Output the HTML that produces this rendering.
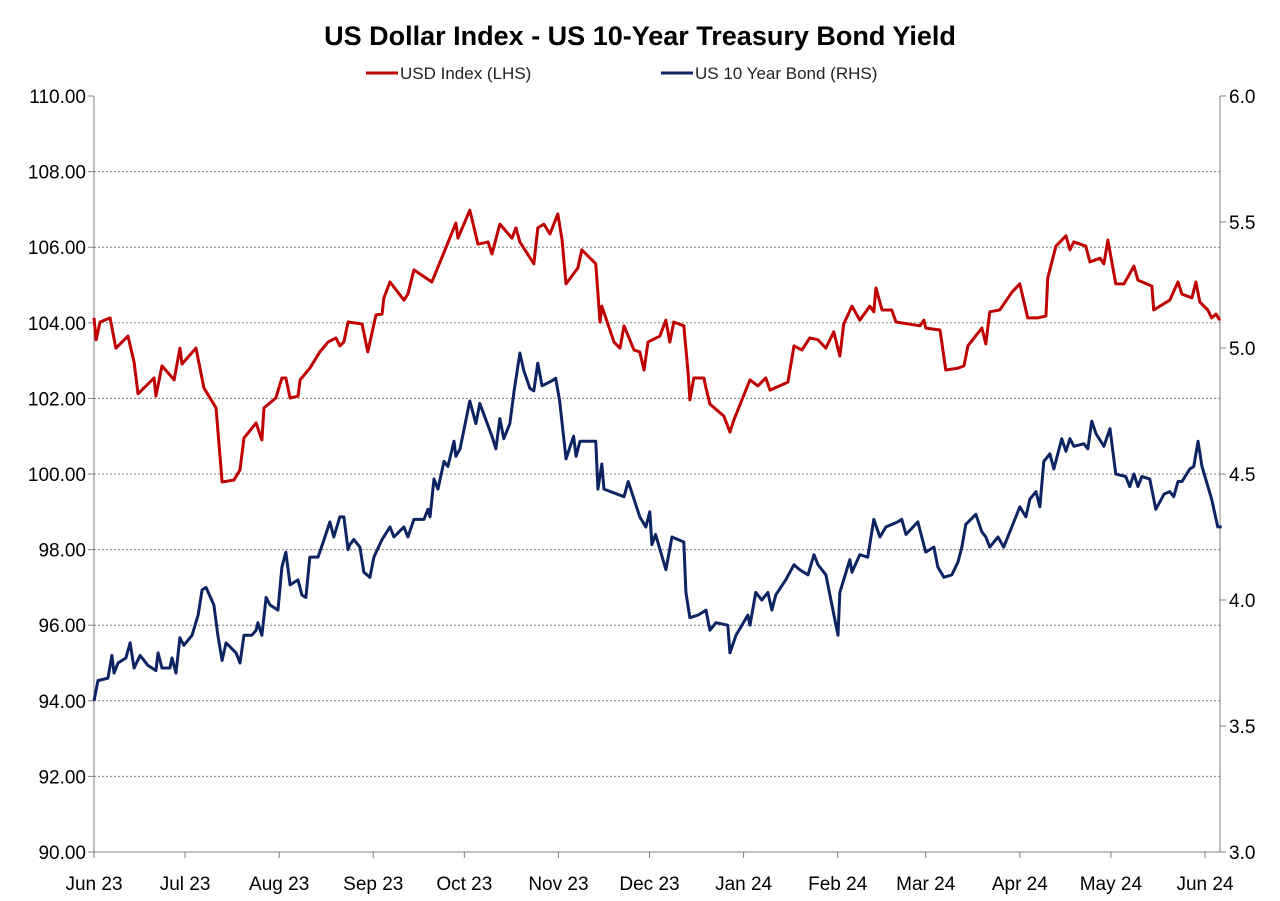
<!DOCTYPE html>
<html><head><meta charset="utf-8"><style>
html,body{margin:0;padding:0;background:#fff;}
svg{display:block;font-family:"Liberation Sans",sans-serif;}
</style></head><body>
<svg id="chart" width="1280" height="901" viewBox="0 0 1280 901" xmlns="http://www.w3.org/2000/svg">
<text x="640" y="45" text-anchor="middle" font-size="27" font-weight="bold" fill="#000">US Dollar Index - US 10-Year Treasury Bond Yield</text>
<g>
<line x1="366" y1="73" x2="398" y2="73" stroke="#C00000" stroke-width="3"/>
<text x="400" y="79" font-size="17" fill="#222">USD Index (LHS)</text>
<line x1="661" y1="73" x2="693" y2="73" stroke="#0C2461" stroke-width="3"/>
<text x="695" y="79" font-size="17" fill="#222">US 10 Year Bond (RHS)</text>
</g>
<g id="grid"></g><g id="axes"></g><g id="series"></g>
</svg>
<script>
const usdDays=[0,0.7,2,5.3,7.2,11.2,13.2,14.5,19.8,20.4,22.4,26.4,28.3,29,33.6,36.2,40.2,41.5,42.2,46.1,48.1,49.4,53.4,55.3,56,59.9,61.9,63.2,64.6,67.2,67.9,71.1,74.4,77.1,79.7,81,82.3,83.7,88.3,90.2,92.9,94.9,95.5,97.5,100.1,102.1,103.4,105.4,111.3,115.9,119.2,119.9,123.8,126.5,129.8,131.1,133.7,137.7,139,140.3,144.9,146.2,148.2,150.2,152.8,154.2,155.5,159.4,160.7,165.3,166.7,167.3,171.3,173.3,174.6,177.9,179.8,181.2,182.5,186.4,188.4,189.7,191,194.3,195.7,196.3,197.6,200.9,201.6,202.9,207.5,209.5,210.8,216.1,218.7,221.3,222.7,228.6,230.6,233.2,235.8,238.5,241.1,243.7,245.7,247,249.7,252.3,255.6,256.9,257.6,259.6,262.8,264.2,272.1,273.4,274,278.7,280.6,284.6,286.6,287.9,292.5,293.8,295.1,298.4,302.4,305,307.6,310.9,313.6,314.2,316.9,320.2,321.5,322.8,326.7,328.1,331.4,332.7,334,336.6,339.3,342.6,343.9,348.5,349.1,354.4,357.1,358.4,361.7,363,364.3,366.9,368.2,369.6,370.9];
const usdValues=[104.13,103.55,104.02,104.13,103.33,103.65,102.96,102.12,102.54,102.06,102.86,102.49,103.33,102.91,103.33,102.28,101.75,100.48,99.79,99.84,100.11,100.95,101.35,100.90,101.75,102.01,102.54,102.54,102.01,102.06,102.49,102.80,103.23,103.49,103.60,103.39,103.49,104.02,103.97,103.23,104.21,104.23,104.66,105.08,104.81,104.60,104.76,105.40,105.08,105.98,106.64,106.24,106.98,106.08,106.14,105.82,106.61,106.24,106.51,106.14,105.56,106.51,106.61,106.35,106.88,106.19,105.03,105.45,105.93,105.56,104.02,104.44,103.49,103.33,103.92,103.28,103.23,102.75,103.49,103.65,104.07,103.49,104.02,103.92,102.70,101.96,102.54,102.54,102.28,101.85,101.53,101.11,101.43,102.49,102.33,102.54,102.22,102.43,103.39,103.28,103.60,103.55,103.33,103.76,103.12,103.97,104.44,104.07,104.44,104.29,104.92,104.34,104.34,104.02,103.92,104.07,103.86,103.81,102.75,102.80,102.86,103.39,103.86,103.44,104.29,104.34,104.81,105.03,104.13,104.13,104.18,105.19,106.03,106.30,105.93,106.14,106.03,105.61,105.71,105.56,106.19,105.03,105.03,105.50,105.13,104.97,104.34,104.60,105.08,104.76,104.66,105.08,104.55,104.34,104.13,104.23,104.07];
const bondDays=[0,1.3,4.6,5.9,6.6,7.9,10.5,11.9,13.2,15.2,17.8,20.4,21.1,22.4,25,25.7,27,28.3,29.6,32.3,34.3,35.6,36.9,39.5,40.8,42.2,43.5,46.8,48.1,49.4,52,53.4,54,55.3,56.7,58,60.6,61.9,63.2,64.6,67.2,68.5,69.8,71.1,73.8,75.8,77.7,79,81,82.3,83.7,84.3,85.6,87.6,88.9,90.9,92.2,94.9,97.5,98.8,102.1,103.4,105.4,108.7,110,110.7,112,113.3,115.3,116.6,118.6,119.2,120.6,123.8,125.8,127.1,131.1,132.4,133.7,135,137,138.4,140.3,141.6,143.6,144.9,146.2,147.6,150.9,152.1,153.4,155.5,158,158.8,160.1,165.3,166,167.3,168,174.6,176,179.8,181.8,183.1,183.8,185,188.4,190.4,194.3,195,196.3,199,201.6,202.9,204.9,208.8,209.5,211.5,215.4,216.1,218,220,222,223.3,224.6,227.9,230.6,232.5,235.2,237.2,238.5,241.1,243.1,245.1,245.7,249,249.7,252.3,254.9,256.9,258.9,260.9,264.8,266.1,267.5,271.4,274,276.7,278,280,282.6,284.6,285.9,287.2,290.5,292.5,293.8,295.1,297.8,299.7,305,307,308.3,310.3,311.6,312.9,314.9,316.2,318.8,320.2,321.5,322.8,326.1,327.4,328.7,330.1,332.7,334.7,336.6,339.9,341.2,342.6,343.9,345.2,347.8,349.8,352.5,354.4,355.7,357.1,358.4,361,362.3,363.7,365,368.2,370.2,371.5];
const bondValues=[3.60,3.68,3.69,3.78,3.71,3.75,3.77,3.83,3.73,3.78,3.74,3.72,3.79,3.73,3.73,3.77,3.71,3.85,3.82,3.86,3.94,4.04,4.05,3.98,3.86,3.76,3.83,3.79,3.75,3.86,3.86,3.88,3.91,3.86,4.01,3.98,3.96,4.13,4.19,4.06,4.08,4.02,4.01,4.17,4.17,4.24,4.31,4.25,4.33,4.33,4.20,4.22,4.24,4.21,4.11,4.09,4.17,4.24,4.29,4.25,4.29,4.25,4.32,4.32,4.36,4.33,4.48,4.44,4.55,4.53,4.63,4.57,4.60,4.79,4.70,4.78,4.65,4.60,4.72,4.64,4.70,4.83,4.98,4.91,4.84,4.83,4.94,4.85,4.87,4.88,4.79,4.56,4.65,4.57,4.63,4.63,4.44,4.54,4.44,4.41,4.47,4.33,4.29,4.35,4.22,4.26,4.12,4.25,4.23,4.03,3.93,3.94,3.96,3.88,3.91,3.90,3.79,3.86,3.94,3.90,4.03,4.00,4.03,3.96,4.02,4.08,4.14,4.12,4.10,4.18,4.14,4.10,3.98,3.86,4.03,4.16,4.11,4.18,4.17,4.32,4.25,4.29,4.31,4.32,4.26,4.31,4.19,4.21,4.13,4.09,4.10,4.15,4.21,4.30,4.34,4.27,4.25,4.21,4.25,4.21,4.37,4.33,4.40,4.43,4.37,4.55,4.58,4.52,4.64,4.59,4.64,4.61,4.62,4.60,4.71,4.66,4.61,4.68,4.50,4.49,4.45,4.50,4.45,4.49,4.48,4.36,4.42,4.43,4.41,4.47,4.47,4.52,4.53,4.63,4.53,4.40,4.29,4.29];
const leftTicks=[90,92,94,96,98,100,102,104,106,108,110];
const rightTicks=[3.0,3.5,4.0,4.5,5.0,5.5,6.0];
const monthLabels=["Jun 23","Jul 23","Aug 23","Sep 23","Oct 23","Nov 23","Dec 23","Jan 24","Feb 24","Mar 24","Apr 24","May 24","Jun 24"];
const monthDays=[0,30,61,92,122,153,183,214,245,274,305,335,366];

const NS="http://www.w3.org/2000/svg";
const X0=94,X1=1220,Y0=96,Y1=852;
const xS=d=>X0+d*(1205-94)/366;
const yL=v=>Y1-(v-90)/20*(Y1-Y0);
const yR=v=>Y1-(v-3)/3*(Y1-Y0);
function mk(tag,attrs,parent){const e=document.createElementNS(NS,tag);for(const k in attrs)e.setAttribute(k,attrs[k]);parent.appendChild(e);return e;}
const grid=document.getElementById('grid'),axes=document.getElementById('axes'),series=document.getElementById('series');
leftTicks.forEach(t=>{
  const y=yL(t);
  if(t>90&&t<110){const g=mk('line',{x1:X0,x2:X1,y1:y,y2:y,stroke:'#808080','stroke-width':1,'stroke-dasharray':'2,2'},grid);
  
  }
  const tk=mk('line',{x1:X0-6,x2:X0,y1:y,y2:y,stroke:'#808080'},axes);
  
  
  const tx=mk('text',{x:X0-8,y:y+7,'text-anchor':'end','font-size':19,fill:'#000'},axes);tx.textContent=t.toFixed(2);
  
  
});
rightTicks.forEach(t=>{
  const y=yR(t);
  const tk=mk('line',{x1:X1,x2:X1+6,y1:y,y2:y,stroke:'#808080'},axes);
  
  
  const tx=mk('text',{x:X1+9,y:y+7,'font-size':19,fill:'#000'},axes);tx.textContent=t.toFixed(1);
  
  
});
monthDays.forEach((d,i)=>{
  const x=xS(d);
  const tk=mk('line',{x1:x,x2:x,y1:Y1,y2:Y1+6,stroke:'#808080'},axes);
  
  
  const tx=mk('text',{x:x,y:Y1+38,'text-anchor':'middle','font-size':19,fill:'#000'},axes);tx.textContent=monthLabels[i];
  
  
});
const la=mk('line',{x1:X0,x2:X0,y1:Y0,y2:Y1,stroke:'#808080'},axes);


const ra=mk('line',{x1:X1,x2:X1,y1:Y0,y2:Y1,stroke:'#808080'},axes);


const ba=mk('line',{x1:X0,x2:X1,y1:Y1,y2:Y1,stroke:'#808080'},axes);


const bp=mk('polyline',{points:bondDays.map((d,i)=>xS(d)+','+yR(bondValues[i])).join(' '),fill:'none',stroke:'#0C2461','stroke-width':3,'stroke-linejoin':'round'},series);


const up=mk('polyline',{points:usdDays.map((d,i)=>xS(d)+','+yL(usdValues[i])).join(' '),fill:'none',stroke:'#C00000','stroke-width':3,'stroke-linejoin':'round'},series);


</script>
</body></html>
